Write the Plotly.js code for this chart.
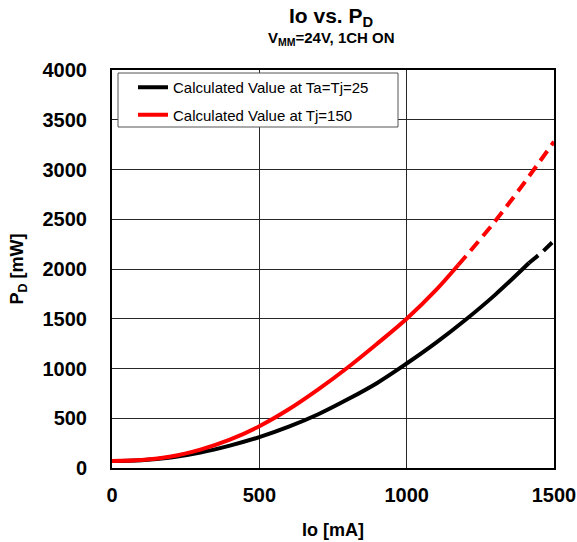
<!DOCTYPE html>
<html><head><meta charset="utf-8">
<script src="https://cdn.plot.ly/plotly-3.0.1.min.js"></script>
<style>html,body{margin:0;padding:0;background:#fff}#chart{width:577px;height:542px}</style>
</head><body><div id="chart"></div>
<script>
// Black: Calculated Value at Ta=Tj=25
const blackSolidIo = [0, 100, 200, 300, 400, 500, 600, 700, 800, 900, 1000, 1100, 1200, 1300, 1415];
const blackSolidPd = [70, 78, 105, 155, 225, 310, 415, 540, 690, 855, 1050, 1260, 1490, 1740, 2060];
const blackDashIo = [1415, 1460, 1500];
const blackDashPd = [2060, 2170, 2285];
// Red: Calculated Value at Tj=150
const redSolidIo = [0, 100, 200, 300, 400, 500, 600, 700, 800, 900, 1000, 1100, 1175];
const redSolidPd = [70, 80, 115, 185, 285, 420, 590, 790, 1010, 1250, 1500, 1790, 2040];
const redDashIo = [1175, 1200, 1300, 1400, 1500];
const redDashPd = [2040, 2125, 2480, 2870, 3280];
const legendNames = ["Calculated Value at Ta=Tj=25", "Calculated Value at Tj=150"];
const xTicks = [0, 500, 1000, 1500];
const yTicks = [0, 500, 1000, 1500, 2000, 2500, 3000, 3500, 4000];
const titleText = "Io vs. P<sub>D</sub>";
const subtitleText = "V<sub>MM</sub>=24V, 1CH ON";

const traces = [
  {x: blackSolidIo, y: blackSolidPd, mode: 'lines', name: legendNames[0], legendgroup: 'a', line: {color: '#000000', width: 4, shape: 'spline'}},
  {x: redSolidIo, y: redSolidPd, mode: 'lines', name: legendNames[1], legendgroup: 'b', line: {color: '#ff0000', width: 4, shape: 'spline'}},
  {x: blackDashIo, y: blackDashPd, mode: 'lines', showlegend: false, legendgroup: 'a', line: {color: '#000000', width: 4, dash: '12px,7px'}},
  {x: redDashIo, y: redDashPd, mode: 'lines', showlegend: false, legendgroup: 'b', line: {color: '#ff0000', width: 4, dash: '12px,7px', shape: 'spline'}}
];
const font = 'Liberation Sans, Arial, sans-serif';
const W = 442, H = 398, L = 112, T = 70;
const px = v => (v - L) / W;
const py = v => (T + H - v) / H;
const layout = {
  width: 577, height: 542,
  margin: {l: L, r: 577 - L - W, t: T, b: 542 - T - H},
  paper_bgcolor: '#ffffff', plot_bgcolor: '#ffffff',
  font: {family: font, color: '#000000'},
  xaxis: {
    range: [0, 1500], tickvals: xTicks, ticktext: xTicks.map(String),
    showgrid: true, gridcolor: '#262626', gridwidth: 1,
    showline: true, linecolor: '#000', linewidth: 2, mirror: true,
    ticks: '', zeroline: false, ticklabelstandoff: 8,
    tickfont: {family: font, size: 20, color: '#000', weight: 'bold'},
    title: {text: '<b>Io [mA]</b>', font: {family: font, size: 18, color: '#000'}, standoff: 18}
  },
  yaxis: {
    range: [0, 4000], tickvals: yTicks, ticktext: yTicks.map(String),
    showgrid: true, gridcolor: '#262626', gridwidth: 1,
    showline: true, linecolor: '#000', linewidth: 2, mirror: true,
    ticks: '', zeroline: false, ticklabelstandoff: 19,
    tickfont: {family: font, size: 20, color: '#000', weight: 'bold'},
    title: {text: '<b>P<sub>D</sub> [mW]</b>', font: {family: font, size: 18, color: '#000'}, standoff: 14}
  },
  legend: {
    x: px(133), y: py(71), xanchor: 'left', yanchor: 'top',
    bgcolor: 'rgba(0,0,0,0)', borderwidth: 0,
    font: {family: font, size: 15, color: '#000'},
    traceorder: 'grouped', tracegroupgap: 5, itemwidth: 30
  },
  shapes: [{
    type: 'rect', xref: 'paper', yref: 'paper',
    x0: px(118), x1: px(398), y0: py(127), y1: py(73),
    line: {color: '#555555', width: 1}, fillcolor: '#ffffff', layer: 'above'
  }],
  annotations: [
    {text: titleText, xref: 'paper', yref: 'paper', x: px(331), y: py(17), xanchor: 'center', yanchor: 'middle', showarrow: false, font: {family: font, size: 21, color: '#000', weight: 'bold'}},
    {text: subtitleText, xref: 'paper', yref: 'paper', x: px(331), y: py(38), xanchor: 'center', yanchor: 'middle', showarrow: false, font: {family: font, size: 15, color: '#000', weight: 'bold'}}
  ],
  showlegend: true
};
Plotly.newPlot('chart', traces, layout, {displayModeBar: false, staticPlot: true});
</script></body></html>
